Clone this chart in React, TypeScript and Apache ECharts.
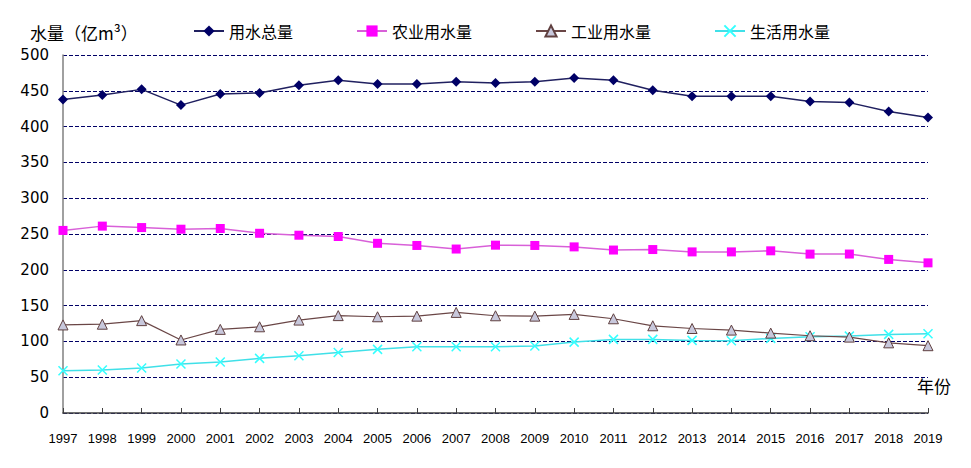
import React, { useEffect, useRef } from "react";
import * as echarts from "echarts";

const years = [
  "1997", "1998", "1999", "2000", "2001", "2002", "2003", "2004", "2005", "2006", "2007", "2008",
  "2009", "2010", "2011", "2012", "2013", "2014", "2015", "2016", "2017", "2018", "2019",
];
const totalWater = [438, 444, 452, 430, 445.5, 447, 457.6, 464.6, 459.5, 459.5, 462.8, 461, 462.8, 468, 464.6, 450.7, 442.3, 442.3, 442.3, 435, 433.5, 421, 412.6];
const agriWater = [255, 261, 259, 256.7, 257.7, 251, 248.3, 246.5, 237, 234, 229, 234.4, 234, 232, 227.6, 228.3, 225, 225, 226.5, 221.9, 222, 214.5, 209.7];
const industryWater = [123, 124, 129, 102, 116.8, 120.4, 129.8, 136, 134.4, 135.3, 140.5, 135.8, 135.3, 137.7, 131.6, 121.8, 118, 115.8, 111.6, 107.9, 106, 98, 94];
const domesticWater = [59, 60, 62.8, 68.4, 71.2, 76.3, 80, 84.6, 88.9, 92.5, 92.5, 92.5, 93.5, 99, 102.8, 102.8, 101.4, 101, 104.2, 106.5, 107.4, 109.8, 110.7];
const seriesNames = ["用水总量", "农业用水量", "工业用水量", "生活用水量"];
const yAxisTitle = "水量（亿m³）";
const xAxisTitle = "年份";

const FONT = "'Liberation Sans', 'Noto Sans CJK SC', sans-serif";
const CJK = "'Noto Sans CJK SC', sans-serif";

export default function App() {
  const ref = useRef<HTMLDivElement>(null);
  useEffect(() => {
    if (!ref.current) return;
    const chart = echarts.init(ref.current, null, { renderer: "svg" });
    chart.setOption({
      animation: false,
      backgroundColor: "#ffffff",
      legend: {
        left: 193,
        top: 23,
        padding: 0,
        itemWidth: 30,
        itemHeight: 14,
        itemGap: 63,
        textStyle: { fontFamily: CJK, fontSize: 16, color: "#000000" },
        data: seriesNames,
      },
      grid: { left: 63, right: 43, top: 55, bottom: 55, containLabel: false },
      xAxis: {
        type: "category",
        data: years,
        boundaryGap: false,
        axisLine: { lineStyle: { color: "#404040", width: 1.5 } },
        axisTick: { inside: true, length: 5, lineStyle: { color: "#404040" }, alignWithLabel: true },
        axisLabel: { fontFamily: FONT, fontSize: 13, color: "#000000", margin: 19, interval: 0 },
        splitLine: { show: false },
      },
      yAxis: {
        type: "value",
        min: 0,
        max: 500,
        interval: 50,
        axisLine: { show: true, lineStyle: { color: "#808080", width: 1.5 } },
        axisTick: { show: false },
        axisLabel: { fontFamily: "'DejaVu Sans', sans-serif", fontSize: 15, color: "#000000", margin: 14 },
        splitLine: { show: true, lineStyle: { color: "#000066", type: [4, 2], width: 1 } },
      },
      graphic: [
        {
          type: "text",
          left: 30,
          top: 24,
          style: { text: yAxisTitle, font: `17px ${CJK}`, fill: "#000000" },
        },
        {
          type: "text",
          left: 917,
          top: 377,
          style: { text: xAxisTitle, font: `17px ${CJK}`, fill: "#000000" },
        },
      ],
      series: [
        {
          name: seriesNames[0],
          type: "line",
          data: totalWater,
          symbol: "diamond",
          symbolSize: 10,
          lineStyle: { color: "#202060", width: 1.5 },
          itemStyle: { color: "#000066" },
          z: 5,
        },
        {
          name: seriesNames[1],
          type: "line",
          data: agriWater,
          symbol: "rect",
          symbolSize: 9,
          lineStyle: { color: "#d860d8", width: 1.5 },
          itemStyle: { color: "#ff00ff" },
          z: 4,
        },
        {
          name: seriesNames[2],
          type: "line",
          data: industryWater,
          symbol: "triangle",
          symbolSize: 10,
          lineStyle: { color: "#6a4646", width: 1.2 },
          itemStyle: { color: "#c8c8dc", borderColor: "#604040", borderWidth: 1 },
          z: 3,
        },
        {
          name: seriesNames[3],
          type: "line",
          data: domesticWater,
          symbol: "path://M0,0L10,10M10,0L0,10",
          symbolSize: 9,
          lineStyle: { color: "#40e0e8", width: 1.5 },
          itemStyle: { color: "#33ffff", borderColor: "#33ffff", borderWidth: 1.5 },
          z: 2,
        },
      ],
    });
    return () => chart.dispose();
  }, []);
  return <div ref={ref} style={{ width: 971, height: 468, marginLeft: -8, marginTop: -8 }} />;
}
